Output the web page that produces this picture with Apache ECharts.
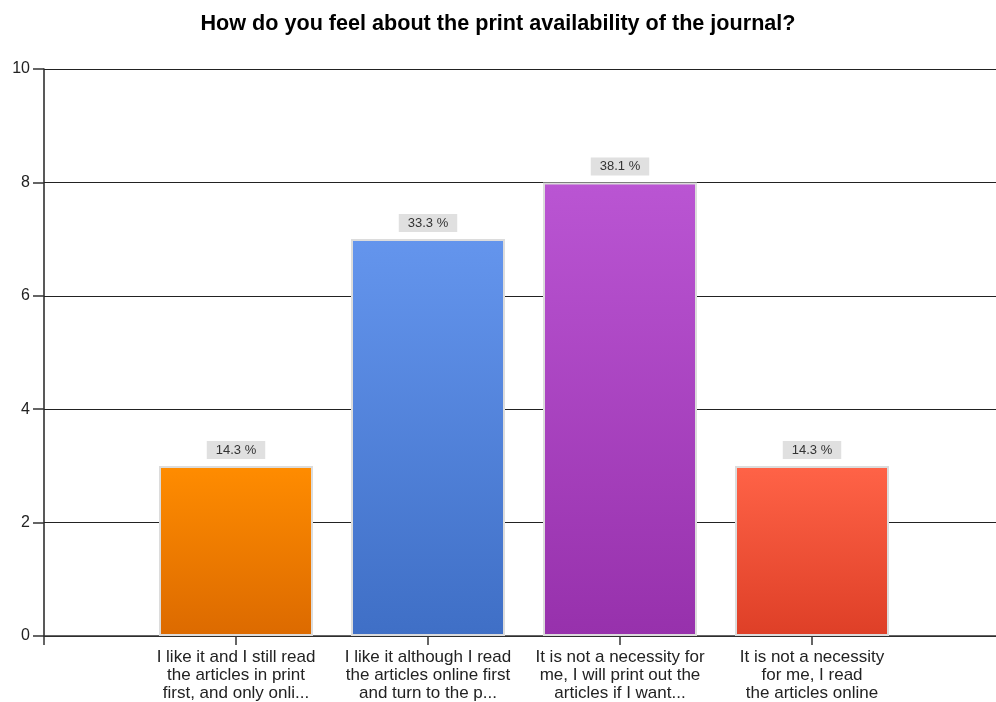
<!DOCTYPE html>
<html><head><meta charset="utf-8">
<script src="https://cdn.jsdelivr.net/npm/echarts@6/dist/echarts.min.js"></script>
<style>html,body{margin:0;padding:0;background:#fff}#c{width:996px;height:702px}</style>
</head><body><div id="c"></div>
<script>
const titleText = "How do you feel about the print availability of the journal?";
const categories = [
  "I like it and I still read\nthe articles in print\nfirst, and only onli...",
  "I like it although I read\nthe articles online first\nand turn to the p...",
  "It is not a necessity for\nme, I will print out the\narticles if I want...",
  "It is not a necessity\nfor me, I read\nthe articles online"
];
const counts = [3, 7, 8, 3];
const percents = ["14.3 %", "33.3 %", "38.1 %", "14.3 %"];
const topColors = ["#FF8C00", "#6495ED", "#BA55D3", "#FF6347"];
const bottomColors = ["#DC6A00", "#3F6FC6", "#9731AC", "#DE3F27"];
const yTicks = [0, 2, 4, 6, 8, 10];

const axisCats = [""].concat(categories, [""]);
const barData = [null].concat(counts.map((v, i) => ({
  value: v,
  itemStyle: {
    color: new echarts.graphic.LinearGradient(0, 0, 0, 1, [
      {offset: 0, color: topColors[i]}, {offset: 1, color: bottomColors[i]}
    ])
  },
  label: {formatter: percents[i]}
})), [null]);

const chart = echarts.init(document.getElementById('c'), null, {renderer: 'canvas'});
chart.setOption({
  animation: false,
  title: {
    text: titleText, left: 'center', top: 8,
    textStyle: {fontFamily: 'Liberation Sans', fontWeight: 'bold', fontSize: 21.6, color: '#000'}
  },
  grid: {left: 44, width: 960, top: 69, height: 567, containLabel: false, outerBoundsMode: 'none'},
  xAxis: {
    type: 'category', data: axisCats, boundaryGap: false,
    axisLine: {lineStyle: {color: '#333', width: 1.5}},
    axisTick: {show: true, length: 9, lineStyle: {color: '#333', width: 1.5}},
    axisLabel: {
      interval: 0, fontFamily: 'Liberation Sans', fontSize: 17, color: '#222',
      lineHeight: 18, margin: 12, align: 'center'
    },
    splitLine: {show: false}
  },
  yAxis: {
    type: 'value', min: 0, max: 10, interval: 2,
    axisLine: {show: true, lineStyle: {color: '#222', width: 1.5}},
    axisTick: {show: true, length: 11, lineStyle: {color: '#333', width: 1.5}},
    axisLabel: {fontFamily: 'Liberation Sans', fontSize: 16, color: '#222', margin: 14,
      formatter: v => yTicks.includes(v) ? String(v) : ''},
    splitLine: {show: true, lineStyle: {color: '#222', width: 1.2}}
  },
  series: [{
    type: 'bar', data: barData, barWidth: 154,
    itemStyle: {borderColor: '#dcdcdc', borderWidth: 2},
    label: {
      show: true, position: 'top', distance: 7,
      fontFamily: 'Liberation Sans', fontSize: 13, color: '#333',
      backgroundColor: '#e0e0e0', padding: [3, 9, 2, 9]
    }
  }]
});
</script></body></html>
